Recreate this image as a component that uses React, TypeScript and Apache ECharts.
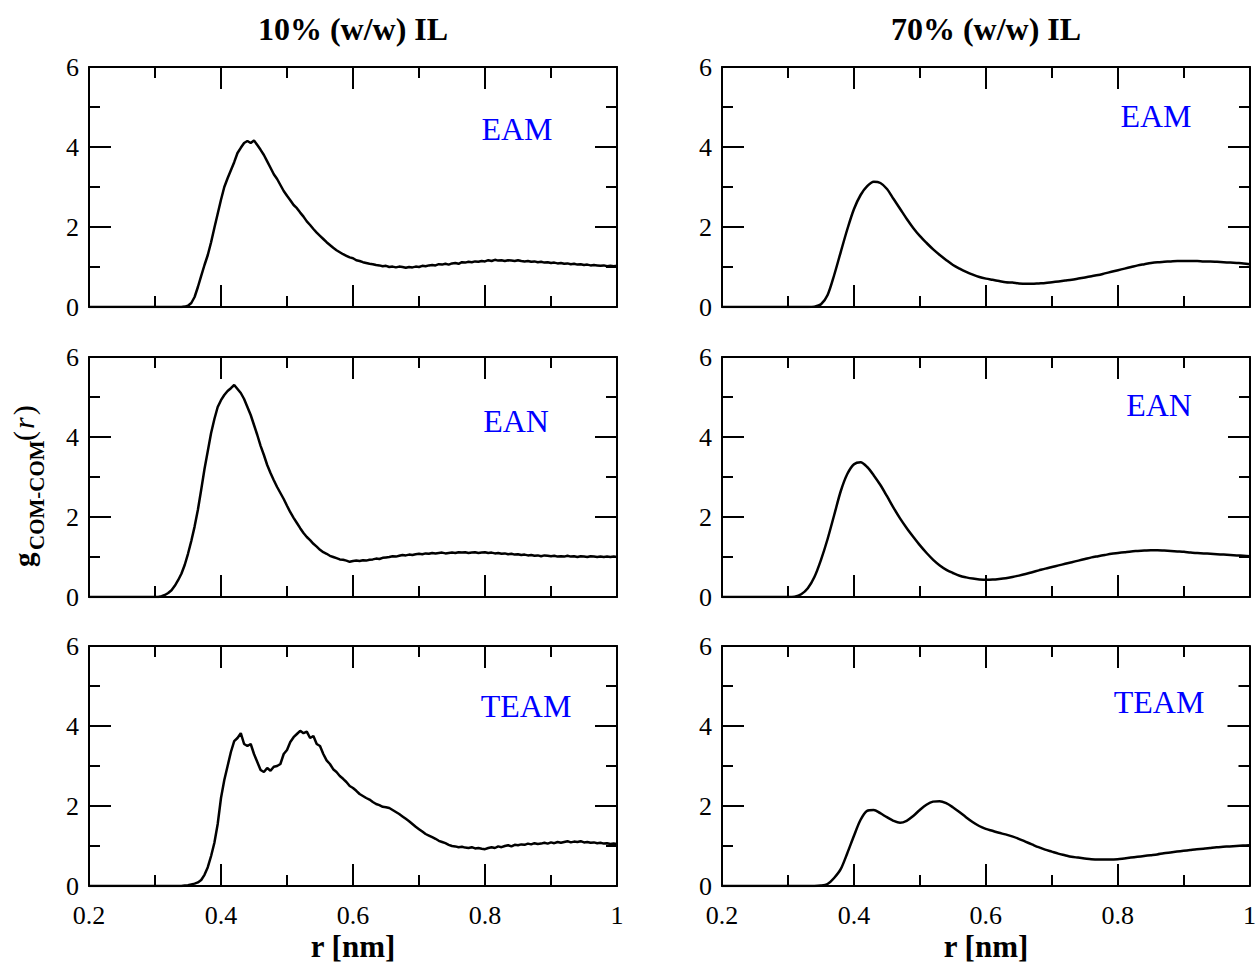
import React, { useEffect, useRef } from "react";
import * as echarts from "echarts";

// ---------------- data ----------------
const R_MIN = 0.2;
const R_MAX = 1.0;
const X_TICK_STEP = 0.2;
const Y_MIN = 0;
const Y_MAX = 6;
const Y_TICK_STEP = 2;

const columnTitles = ["10% (w/w) IL", "70% (w/w) IL"];
const systemNames = ["EAM", "EAN", "TEAM"];
const xAxisName = "r [nm]";

// 10% IL (noisy simulation curves), sampled every 0.005 nm from given start
const g10EAM_start = 0.34;
const g10EAM = [
  0, 0.01, 0.03, 0.1, 0.25, 0.5, 0.78, 1.05, 1.3, 1.62, 1.98, 2.33, 2.68, 3.0, 3.22, 3.42, 3.62, 3.85,
  3.98, 4.1, 4.15, 4.1, 4.16, 4.05, 3.93, 3.8, 3.64, 3.48, 3.32, 3.2, 3.05, 2.9, 2.78, 2.67, 2.55, 2.47,
  2.36, 2.26, 2.14, 2.05, 1.95, 1.86, 1.78, 1.7, 1.62, 1.55, 1.48, 1.42, 1.37, 1.32, 1.28, 1.24, 1.22,
  1.17, 1.15, 1.12, 1.1, 1.08, 1.07, 1.05, 1.04, 1.02, 1.03, 1.0, 1.01, 0.99, 1.01, 1.0, 0.98, 1.0, 0.99,
  1.01, 1.0, 1.03, 1.02, 1.04, 1.05, 1.04, 1.07, 1.06, 1.08, 1.06, 1.09, 1.1, 1.08, 1.12, 1.11, 1.13,
  1.12, 1.14, 1.13, 1.15, 1.14, 1.17, 1.15, 1.18, 1.16, 1.17, 1.15, 1.17, 1.16, 1.15, 1.17, 1.15, 1.14,
  1.15, 1.13, 1.14, 1.12, 1.13, 1.11, 1.12, 1.1, 1.11, 1.09, 1.1, 1.08, 1.09, 1.07, 1.08, 1.06, 1.07,
  1.05, 1.06, 1.04, 1.05, 1.04, 1.03, 1.04, 1.02, 1.03, 1.02, 1.03,
];

const g10EAN_start = 0.3;
const g10EAN = [
  0, 0.0, 0.02, 0.05, 0.1, 0.17, 0.28, 0.42, 0.58, 0.8, 1.08, 1.4, 1.76, 2.18, 2.68, 3.2, 3.65, 4.1,
  4.45, 4.75, 4.92, 5.05, 5.15, 5.22, 5.3, 5.2, 5.1, 4.95, 4.75, 4.55, 4.3, 4.05, 3.78, 3.55, 3.3, 3.1,
  2.92, 2.75, 2.6, 2.45, 2.28, 2.12, 1.98, 1.85, 1.72, 1.6, 1.5, 1.42, 1.33, 1.26, 1.18, 1.12, 1.08,
  1.03, 1.0, 0.97, 0.94, 0.93, 0.91, 0.88, 0.9, 0.91, 0.9, 0.92, 0.91, 0.93, 0.94, 0.96, 0.95, 0.98,
  0.99, 1.0, 1.02, 1.01, 1.03, 1.05, 1.04, 1.06, 1.05, 1.07, 1.08, 1.07, 1.09, 1.08, 1.1, 1.09, 1.1,
  1.11, 1.09, 1.1, 1.11, 1.1, 1.12, 1.11, 1.12, 1.1, 1.11, 1.12, 1.1, 1.11, 1.12, 1.1, 1.11, 1.09, 1.1,
  1.08, 1.09, 1.07, 1.08, 1.06, 1.07, 1.05, 1.06, 1.04, 1.05, 1.03, 1.04, 1.02, 1.04, 1.03, 1.02, 1.03,
  1.01, 1.02, 1.01, 1.03, 1.01, 1.02, 1.0, 1.02, 1.01, 1.0, 1.02, 1.01, 1.0, 1.01, 1.0, 1.01, 1.0,
  1.01, 1.0,
];

const g10TEAM_start = 0.34;
const g10TEAM = [
  0, 0.01, 0.02, 0.04, 0.06, 0.09, 0.15, 0.28, 0.47, 0.75, 1.08, 1.55, 2.2, 2.65, 3.0, 3.35, 3.62, 3.7,
  3.82, 3.55, 3.5, 3.55, 3.3, 3.1, 2.9, 2.85, 2.95, 2.88, 2.98, 3.0, 3.05, 3.3, 3.4, 3.6, 3.72, 3.8,
  3.88, 3.82, 3.86, 3.7, 3.75, 3.55, 3.5, 3.3, 3.14, 3.05, 2.92, 2.85, 2.75, 2.68, 2.6, 2.5, 2.45, 2.38,
  2.3, 2.25, 2.2, 2.16, 2.1, 2.05, 2.02, 1.98, 1.97, 1.95, 1.9, 1.85, 1.8, 1.74, 1.68, 1.62, 1.55, 1.48,
  1.42, 1.36, 1.3, 1.26, 1.22, 1.18, 1.13, 1.1, 1.07, 1.03, 1.0, 0.99, 0.97, 0.98, 0.96, 0.95, 0.97,
  0.94, 0.95, 0.93, 0.92, 0.95, 0.97, 0.95, 0.99, 0.97, 1.0, 1.02, 0.99, 1.03, 1.02, 1.04, 1.03, 1.06,
  1.04, 1.07, 1.05, 1.06, 1.08, 1.06, 1.09, 1.07, 1.1, 1.08, 1.1, 1.12, 1.09, 1.11, 1.1, 1.12, 1.09,
  1.1, 1.08, 1.09, 1.07, 1.08, 1.06, 1.07, 1.05, 1.06, 1.05,
];
const STEP_10 = 0.005;

// 70% IL (smooth curves), sampled every 0.01 nm from given start
const g70EAM_start = 0.33;
const g70EAM = [
  0, 0.01, 0.07, 0.3, 0.8, 1.38, 1.95, 2.45, 2.8, 3.02, 3.13, 3.1, 2.95, 2.7, 2.45, 2.2, 1.97, 1.77,
  1.6, 1.44, 1.3, 1.17, 1.05, 0.96, 0.88, 0.81, 0.75, 0.71, 0.68, 0.65, 0.62, 0.61, 0.59, 0.58, 0.58,
  0.59, 0.6, 0.62, 0.64, 0.66, 0.68, 0.71, 0.74, 0.77, 0.8, 0.84, 0.88, 0.92, 0.96, 1.0, 1.04, 1.07,
  1.1, 1.12, 1.13, 1.14, 1.15, 1.15, 1.15, 1.15, 1.14, 1.14, 1.13, 1.12, 1.11, 1.1, 1.09, 1.07,
];

const g70EAN_start = 0.3;
const g70EAN = [
  0, 0.01, 0.07, 0.22, 0.5, 0.93, 1.45, 2.05, 2.65, 3.08, 3.32, 3.37, 3.25, 3.04, 2.8, 2.52, 2.23, 1.96,
  1.72, 1.5, 1.29, 1.1, 0.93, 0.79, 0.68, 0.6, 0.53, 0.49, 0.46, 0.44, 0.43, 0.435, 0.45, 0.47, 0.5,
  0.535, 0.575, 0.62, 0.665, 0.71, 0.75, 0.79, 0.83, 0.87, 0.91, 0.95, 0.99, 1.02, 1.05, 1.08, 1.1, 1.12,
  1.14, 1.15, 1.16, 1.17, 1.17, 1.16, 1.15, 1.14, 1.13, 1.11, 1.1, 1.09, 1.08, 1.07, 1.06, 1.05, 1.04,
  1.03, 1.02,
];

const g70TEAM_start = 0.34;
const g70TEAM = [
  0, 0.01, 0.05, 0.2, 0.42, 0.82, 1.25, 1.65, 1.88, 1.9, 1.82, 1.72, 1.63, 1.58, 1.63, 1.75, 1.9, 2.03,
  2.11, 2.12, 2.07, 1.97, 1.85, 1.72, 1.6, 1.5, 1.43, 1.38, 1.33, 1.29, 1.24, 1.18, 1.11, 1.04, 0.97,
  0.91, 0.86, 0.81, 0.77, 0.73, 0.71, 0.69, 0.67, 0.66, 0.66, 0.66, 0.67, 0.69, 0.71, 0.73, 0.75, 0.77,
  0.79, 0.82, 0.84, 0.86, 0.88, 0.9, 0.92, 0.93, 0.95, 0.97, 0.98, 0.99, 1.0, 1.01, 1.02,
];
const STEP_70 = 0.01;

// ---------------- layout ----------------
const GRID_LEFTS = [89, 722];
const GRID_TOPS = [67, 357, 646];
const GRID_W = 528;
const GRID_H = 240;
const FAMILY = "Liberation Serif";
const TICK_FONT = 26;

type Panel = {
  col: number;
  row: number;
  start: number;
  step: number;
  values: number[];
  smooth: boolean;
  label: string;
  lx: number;
  ly: number;
};

const panels: Panel[] = [
  { col: 0, row: 0, start: g10EAM_start, step: STEP_10, values: g10EAM, smooth: false, label: systemNames[0], lx: 517, ly: 129 },
  { col: 1, row: 0, start: g70EAM_start, step: STEP_70, values: g70EAM, smooth: true, label: systemNames[0], lx: 1156, ly: 116 },
  { col: 0, row: 1, start: g10EAN_start, step: STEP_10, values: g10EAN, smooth: false, label: systemNames[1], lx: 516, ly: 421 },
  { col: 1, row: 1, start: g70EAN_start, step: STEP_70, values: g70EAN, smooth: true, label: systemNames[1], lx: 1159, ly: 405 },
  { col: 0, row: 2, start: g10TEAM_start, step: STEP_10, values: g10TEAM, smooth: false, label: systemNames[2], lx: 526, ly: 706 },
  { col: 1, row: 2, start: g70TEAM_start, step: STEP_70, values: g70TEAM, smooth: true, label: systemNames[2], lx: 1159, ly: 702 },
];

function toPairs(start: number, step: number, values: number[]): number[][] {
  const pts: number[][] = [[R_MIN, 0]];
  values.forEach((v, i) => {
    pts.push([Number((start + i * step).toFixed(4)), v]);
  });
  return pts;
}

function txt(text: string, x: number, y: number, font: string, fill = "#000") {
  return {
    type: "text",
    x,
    y,
    style: {
      text,
      font,
      fill,
      align: "center",
      verticalAlign: "middle",
      textAlign: "center",
      textVerticalAlign: "middle",
    },
  };
}

function buildOption() {
  const grid: any[] = [];
  const xAxis: any[] = [];
  const yAxis: any[] = [];
  const series: any[] = [];
  const graphic: any[] = [];

  const lineStyle = { color: "#000", width: 2 };

  panels.forEach((p, i) => {
    grid.push({
      left: GRID_LEFTS[p.col],
      top: GRID_TOPS[p.row],
      width: GRID_W,
      height: GRID_H,
      containLabel: false,
    });
    const showX = p.row === 2;
    const baseX = {
      type: "value",
      gridIndex: i,
      min: R_MIN,
      max: R_MAX,
      interval: X_TICK_STEP,
      axisLine: { show: true, onZero: false, lineStyle },
      axisTick: { show: true, inside: true, length: 22, lineStyle },
      minorTick: { show: true, splitNumber: 2, length: 11, lineStyle },
      splitLine: { show: false },
      minorSplitLine: { show: false },
    };
    xAxis.push({
      ...baseX,
      position: "bottom",
      axisLabel: {
        show: showX,
        fontFamily: FAMILY,
        fontSize: TICK_FONT,
        lineHeight: 26,
        color: "#000",
        margin: 16,
        formatter: (v: number) => String(Number(v.toFixed(2))),
      },
    });
    xAxis.push({ ...baseX, position: "top", axisLabel: { show: false } });

    const baseY = {
      type: "value",
      gridIndex: i,
      min: Y_MIN,
      max: Y_MAX,
      interval: Y_TICK_STEP,
      axisLine: { show: true, onZero: false, lineStyle },
      axisTick: { show: true, inside: true, length: 22, lineStyle },
      minorTick: { show: true, splitNumber: 2, length: 11, lineStyle },
      splitLine: { show: false },
      minorSplitLine: { show: false },
    };
    yAxis.push({
      ...baseY,
      position: "left",
      axisLabel: {
        show: true,
        fontFamily: FAMILY,
        fontSize: TICK_FONT,
        lineHeight: 26,
        color: "#000",
        margin: 10,
      },
    });
    yAxis.push({ ...baseY, position: "right", axisLabel: { show: false } });

    series.push({
      type: "line",
      xAxisIndex: 2 * i,
      yAxisIndex: 2 * i,
      data: toPairs(p.start, p.step, p.values),
      showSymbol: false,
      symbol: "none",
      smooth: p.smooth ? 0.3 : false,
      lineStyle: { color: "#000", width: 2.5 },
      silent: true,
    });

    graphic.push(txt(p.label, p.lx, p.ly, `32px ${FAMILY}`, "#0000ff"));
  });

  // column titles and x-axis names
  [0, 1].forEach((c) => {
    const cx = GRID_LEFTS[c] + GRID_W / 2;
    graphic.push(txt(columnTitles[c], cx, 29, `bold 32px ${FAMILY}`));
    graphic.push(txt(xAxisName, cx, 946, `bold 31px ${FAMILY}`));
  });

  // y-axis label g_COM-COM(r), rotated
  const rot = Math.PI / 2;
  const mk = (text: string, x: number, y: number, font: string, rich?: any) => ({
    type: "text",
    x,
    y,
    rotation: rot,
    style: {
      text,
      font,
      fill: "#000",
      align: "left",
      verticalAlign: "middle",
      textAlign: "left",
      textVerticalAlign: "middle",
      ...(rich ? { rich } : {}),
    },
  });
  graphic.push(mk("g", 24, 567, `bold 29px ${FAMILY}`));
  graphic.push(mk("COM-COM", 37, 550, `bold 21px ${FAMILY}`));
  graphic.push(
    mk("{p|(}{i|r}{p|)}", 23, 441, `30px ${FAMILY}`, {
      p: { font: `30px ${FAMILY}`, fill: "#000" },
      i: { font: `italic 30px ${FAMILY}`, fill: "#000", padding: [0, 2, 0, 2] },
    })
  );

  return {
    animation: false,
    backgroundColor: "#fff",
    grid,
    xAxis,
    yAxis,
    series,
    graphic,
  };
}

export default function App() {
  const ref = useRef<HTMLDivElement>(null);
  useEffect(() => {
    if (!ref.current) return;
    const chart = echarts.init(ref.current, null, { renderer: "svg" });
    chart.setOption(buildOption() as any);
    return () => chart.dispose();
  }, []);
  return (
    <div
      ref={ref}
      style={{ position: "absolute", left: 0, top: 0, width: 1259, height: 962, background: "#fff" }}
    />
  );
}
